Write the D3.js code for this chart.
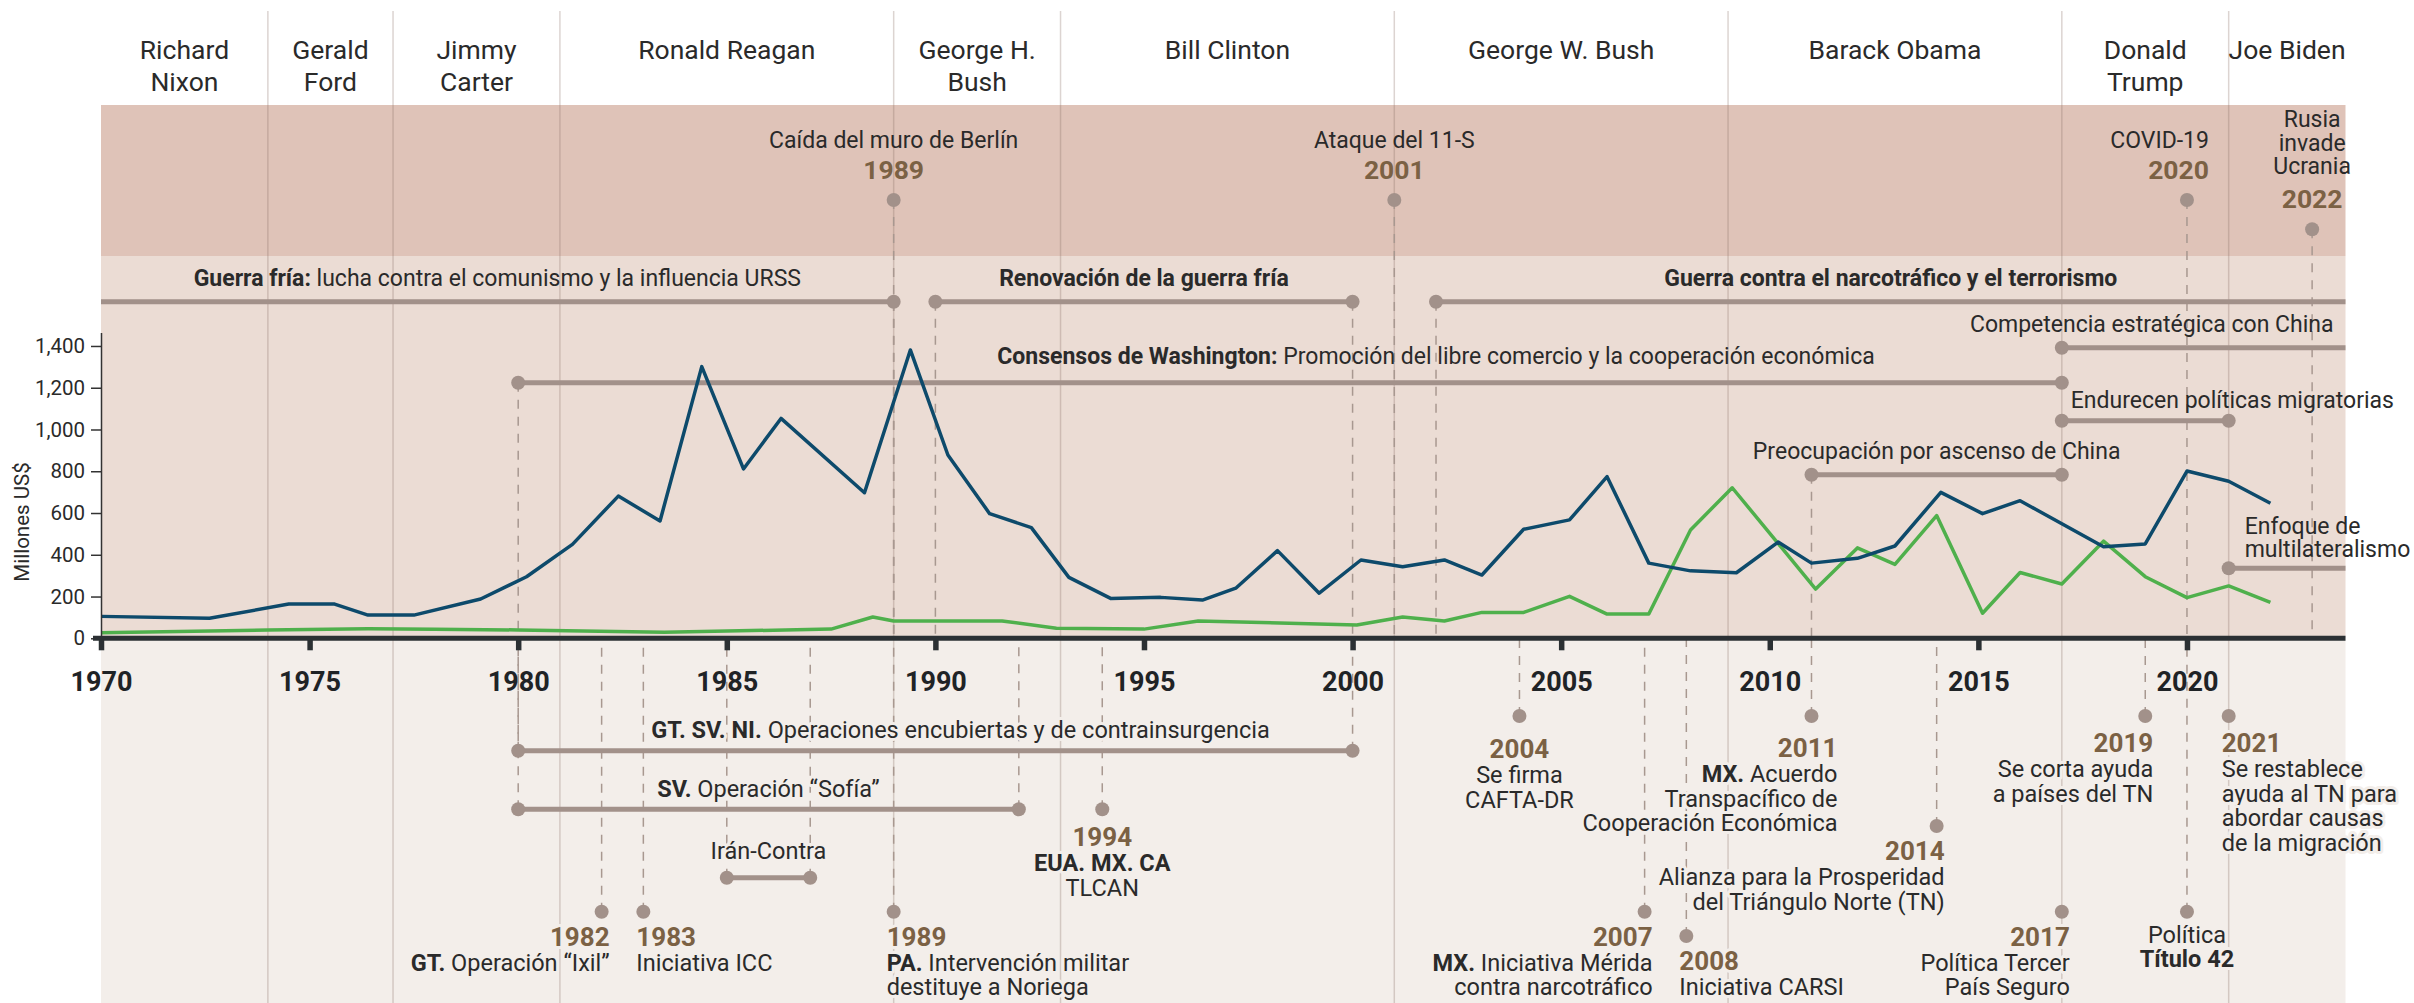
<!DOCTYPE html>
<html>
<head>
<meta charset="utf-8">
<script src="https://cdn.jsdelivr.net/npm/d3@7"></script>
<style>
  body { margin: 0; background: #fff; }
  svg { display: block; font-family: Roboto, "Noto Sans", sans-serif; }
</style>
</head>
<body>
<svg id="chart" width="2414" height="1003"></svg>
<script>
// ---- data ----
const presidents = ['Richard\nNixon', 'Gerald\nFord', 'Jimmy\nCarter', 'Ronald Reagan', 'George H.\nBush',
  'Bill Clinton', 'George W. Bush', 'Barack Obama', 'Donald\nTrump', 'Joe Biden']
const presidentStarts = [1970, 1974, 1977, 1981, 1989, 1993, 2001, 2009, 2017, 2021]
const yearTicks = [1970, 1975, 1980, 1985, 1990, 1995, 2000, 2005, 2010, 2015, 2020]
const valueTicks = [0, 200, 400, 600, 800, 1000, 1200, 1400]

const blueYears = [1970, 1972.6, 1974.5, 1975.6, 1976.4, 1977.5, 1979.1, 1980.2, 1981.3, 1982.4, 1983.4,
  1984.4, 1985.4, 1986.3, 1988.3, 1989.4, 1990.3, 1991.3, 1992.3, 1993.2, 1994.2, 1995.4, 1996.4, 1997.2,
  1998.2, 1999.2, 2000.2, 2001.2, 2002.2, 2003.1, 2004.1, 2005.2, 2006.1, 2007.1, 2008.1, 2009.2, 2010.2,
  2011, 2012.1, 2013, 2014.1, 2015.1, 2016, 2018, 2019, 2020, 2021, 2022]
const blueValues = [105, 96, 164, 164, 111, 111, 188, 295, 450, 681, 562,
  1301, 811, 1053, 697, 1381, 878, 597, 530, 292, 191, 196, 183, 240,
  420, 216, 375, 343, 375, 303, 522, 567, 774, 360, 323, 314, 461,
  360, 383, 442, 699, 597, 659, 438, 452, 801, 752, 647]

const greenYears = [1970, 1974, 1976.4, 1978, 1980, 1983.5, 1986.4, 1987.5, 1988.5, 1989, 1991.6, 1992.9,
  1995, 1996.3, 2000.1, 2001.2, 2002.2, 2003.1, 2004.1, 2005.2, 2006.1, 2007.1, 2008.1, 2009.1,
  2011.1, 2012.1, 2013, 2014, 2015.1, 2016, 2017, 2018, 2019, 2020, 2021, 2022]
const greenValues = [27, 40, 46, 43, 40, 29, 40, 44, 102, 83, 83, 48,
  44, 83, 64, 102, 83, 124, 124, 201, 116, 116, 519, 721,
  236, 433, 354, 588, 120, 315, 260, 465, 295, 195, 251, 172]

const policies = [
  { from: 1970, to: 1989, row: 'r0', lines: ['**Guerra fría:** lucha contra el comunismo y la influencia URSS'] },
  { from: 1990, to: 2000, row: 'r0', lines: ['**Renovación de la guerra fría**'] },
  { from: 2002, to: 2023.8, row: 'r0', lines: ['**Guerra contra el narcotráfico y el terrorismo**'] },
  { from: 2017, to: 2023.8, row: 'r1', lines: ['Competencia estratégica con China'], align: 'end' },
  { from: 1980, to: 2017, row: 'r2', lines: ['**Consensos de Washington:** Promoción del libre comercio y la cooperación económica'], labelAt: 2002 },
  { from: 2017, to: 2021, row: 'r3', lines: ['Endurecen políticas migratorias'], align: 'start' },
  { from: 2011, to: 2017, row: 'r4', lines: ['Preocupación por ascenso de China'] },
  { from: 2021, to: 2023.8, row: 'r5', lines: ['Enfoque de', 'multilateralismo'], align: 'start' },
  { from: 1980, to: 2000, row: 'b0', lines: ['**GT. SV. NI.** Operaciones encubiertas y de contrainsurgencia'], labelAt: 1990.6 },
  { from: 1980, to: 1992, row: 'b1', lines: ['**SV.** Operación “Sofía”'] },
  { from: 1985, to: 1987, row: 'b2', lines: ['Irán-Contra'] }
]

const topEvents = [
  { at: 1989, year: '1989', lines: ['Caída del muro de Berlín'], level: 'tA', align: 'middle' },
  { at: 2001, year: '2001', lines: ['Ataque del 11-S'], level: 'tA', align: 'middle' },
  { at: 2020, year: '2020', lines: ['COVID-19'], level: 'tA', align: 'end' },
  { at: 2023, year: '2022', lines: ['Rusia', 'invade', 'Ucrania'], level: 'tB', align: 'middle' }
]

const bottomEvents = [
  { at: 1982, year: '1982', lines: ['**GT.** Operación “Ixil”'], level: 'd4', align: 'end' },
  { at: 1983, year: '1983', lines: ['Iniciativa ICC'], level: 'd4', align: 'start' },
  { at: 1989, year: '1989', lines: ['**PA.** Intervención militar', 'destituye a Noriega'], level: 'd4', align: 'start' },
  { at: 1994, year: '1994', lines: ['**EUA. MX. CA**', 'TLCAN'], level: 'd2', align: 'middle' },
  { at: 2004, year: '2004', lines: ['Se firma', 'CAFTA-DR'], level: 'd1', align: 'middle' },
  { at: 2007, year: '2007', lines: ['**MX.** Iniciativa Mérida', 'contra narcotráfico'], level: 'd4', align: 'end' },
  { at: 2008, year: '2008', lines: ['Iniciativa CARSI'], level: 'd5', align: 'start' },
  { at: 2011, year: '2011', lines: ['**MX.** Acuerdo', 'Transpacífico de', 'Cooperación Económica'], level: 'd1', align: 'end' },
  { at: 2014, year: '2014', lines: ['Alianza para la Prosperidad', 'del Triángulo Norte (TN)'], level: 'd3', align: 'end' },
  { at: 2017, year: '2017', lines: ['Política Tercer', 'País Seguro'], level: 'd4', align: 'end' },
  { at: 2019, year: '2019', lines: ['Se corta ayuda', 'a países del TN'], level: 'd1', align: 'end' },
  { at: 2020, year: null, lines: ['Política', '**Título 42**'], level: 'd4', align: 'middle' },
  { at: 2021, year: '2021', lines: ['Se restablece', 'ayuda al TN para', 'abordar causas', 'de la migración'], level: 'd1', align: 'start' }
]

// ---- layout ----
const svg = d3.select('#chart')
const xMin = 1970, xMax = 2023.8
const x = d3.scaleLinear().domain([xMin, xMax]).range([101, 2345.5])
const y = d3.scaleLinear().domain([0, 1465]).range([638.3, 332.4])
const axisY = y(0)

// vertical levels of the timeline rows and event dots
const LY = { tA: 200, tB: 229.3, r0: 301.7, r1: 347.7, r2: 382.7, r3: 420.7, r4: 474.7, r5: 568.3,
  d1: 716, b0: 750.7, b1: 809.3, d2: 809.3, d3: 826, b2: 877.7, d4: 911.7, d5: 936 }
const labelGap = { r0: 16, r1: 16, r2: 19, r3: 13, r4: 16, r5: 11, b0: 13, b1: 12, b2: 19 }
const yearGap = { d1: 36, d2: 37, d3: 34, d4: 34, d5: 34 }
const dxNudge = { 2011: 18 }
const dyNudge = { 2004: 6, 2011: 5 }

const ink = '#2a2a2a', brown = '#7b6144', grey = '#a2918a'

const plotW = x(xMax) - x(xMin)
svg.append('rect').attr('x', x(xMin)).attr('y', 105).attr('width', plotW).attr('height', 151).attr('fill', '#dfc3b8')
svg.append('rect').attr('x', x(xMin)).attr('y', 256).attr('width', plotW).attr('height', axisY - 256).attr('fill', '#ebdcd4')
svg.append('rect').attr('x', x(xMin)).attr('y', axisY).attr('width', plotW).attr('height', 1003 - axisY).attr('fill', '#f3eeea')

// president separators and names
svg.append('g').selectAll('line')
  .data(presidentStarts.slice(1))
  .enter().append('line')
  .attr('x1', d => x(d)).attr('x2', d => x(d))
  .attr('y1', 11).attr('y2', 1003)
  .attr('stroke', '#8a7068').attr('stroke-opacity', 0.3).attr('stroke-width', 1.5)

const presEnds = presidentStarts.slice(1).concat([xMax])
presidents.forEach((name, i) => {
  const cx = x((presidentStarts[i] + presEnds[i]) / 2)
  name.split('\n').forEach((ln, j) => {
    svg.append('text').attr('x', cx).attr('y', 59 + j * 31.5)
      .attr('text-anchor', 'middle').attr('font-size', 26.5).attr('fill', ink).text(ln)
  })
})

function richLine(t, str) {
  str.split('**').forEach((part, i) => {
    if (!part) return
    t.append('tspan').attr('font-weight', i % 2 ? 700 : 400).text(part)
  })
}

// dashed drops from every dot to the axis
const dots = []
policies.forEach(p => {
  if (p.from > xMin) dots.push({ at: p.from, level: p.row })
  if (p.to < xMax) dots.push({ at: p.to, level: p.row })
})
topEvents.concat(bottomEvents).forEach(e => dots.push({ at: e.at, level: e.level }))

svg.append('g').selectAll('line')
  .data(dots.filter(d => d.at !== 2017 && d.at !== 2021))
  .enter().append('line')
  .attr('x1', d => x(d.at)).attr('x2', d => x(d.at))
  .attr('y1', d => LY[d.level]).attr('y2', axisY)
  .attr('stroke', '#a89890').attr('stroke-width', 1.5).attr('stroke-dasharray', '9,8')

// timeline rows
svg.append('g').selectAll('line')
  .data(policies)
  .enter().append('line')
  .attr('x1', d => x(d.from)).attr('x2', d => x(d.to))
  .attr('y1', d => LY[d.row]).attr('y2', d => LY[d.row])
  .attr('stroke', grey).attr('stroke-width', 5)

svg.append('g').selectAll('circle')
  .data(dots)
  .enter().append('circle')
  .attr('cx', d => x(d.at)).attr('cy', d => LY[d.level]).attr('r', 7)
  .attr('fill', grey)

// series lines
const line = d3.line().x(d => x(d[0])).y(d => y(d[1]))
svg.append('path').datum(d3.zip(greenYears, greenValues))
  .attr('d', line).attr('fill', 'none').attr('stroke', '#4fb04c').attr('stroke-width', 3.5)
  .attr('stroke-linejoin', 'round')
svg.append('path').datum(d3.zip(blueYears, blueValues))
  .attr('d', line).attr('fill', 'none').attr('stroke', '#0d4a6b').attr('stroke-width', 3.5)
  .attr('stroke-linejoin', 'round')

// axes
const yAxis = svg.append('g').attr('transform', `translate(${x(xMin)},0)`)
  .call(d3.axisLeft(y).tickValues(valueTicks).tickSize(10).tickSizeOuter(0).tickPadding(6).tickFormat(d3.format(',')))
yAxis.select('.domain').attr('stroke', '#333').attr('stroke-width', 1.5)
yAxis.selectAll('.tick line').attr('stroke', '#333').attr('stroke-width', 1.5)
yAxis.selectAll('.tick text').attr('font-size', 20.5).attr('fill', ink).attr('font-family', 'Roboto')

svg.append('text').attr('transform', 'translate(29,522) rotate(-90)')
  .attr('text-anchor', 'middle').attr('font-size', 20.5).attr('fill', ink).text('Millones US$')

const xAxis = svg.append('g').attr('transform', `translate(0,${axisY})`)
  .call(d3.axisBottom(x).tickValues(yearTicks).tickSize(12).tickPadding(22).tickFormat(d3.format('d')))
xAxis.select('.domain').remove()
xAxis.selectAll('.tick line').attr('stroke', '#2b3033').attr('stroke-width', 5.5)
xAxis.selectAll('.tick text').attr('font-size', 27).attr('font-weight', 700).attr('fill', '#1f2326').attr('font-family', 'Roboto')
svg.append('line').attr('x1', 93).attr('x2', x(xMax)).attr('y1', axisY).attr('y2', axisY)
  .attr('stroke', '#2b3033').attr('stroke-width', 5)

// row labels
const halo = t => t.attr('stroke', '#f3eeea').attr('stroke-width', 6).attr('stroke-linejoin', 'round').attr('paint-order', 'stroke')
policies.forEach(p => {
  let lx = x(p.labelAt !== undefined ? p.labelAt : (p.from + p.to) / 2), anchor = 'middle'
  if (p.align === 'end') { lx = x(p.to) - 12; anchor = 'end' }
  if (p.align === 'start') { lx = x(p.from) + (p.lines.length > 1 ? 16 : 9); anchor = 'start' }
  const below = p.row[0] === 'b'
  const base = LY[p.row] - labelGap[p.row]
  p.lines.forEach((ln, j) => {
    const t = svg.append('text').attr('x', lx).attr('y', base - (p.lines.length - 1 - j) * 23.5)
      .attr('text-anchor', anchor).attr('font-size', below ? 23.5 : 23).attr('fill', ink)
    if (below) halo(t)
    richLine(t, ln)
  })
})

// events above the chart
topEvents.forEach(e => {
  const dy = LY[e.level]
  let lx = x(e.at), anchor = 'middle'
  if (e.align === 'end') { lx += 22; anchor = 'end' }
  svg.append('text').attr('x', lx).attr('y', dy - 21).attr('text-anchor', anchor)
    .attr('font-size', 26.5).attr('font-weight', 700).attr('fill', brown).text(e.year)
  const gap = e.lines.length > 1 ? 55 : 52
  e.lines.forEach((ln, j) => {
    svg.append('text').attr('x', lx).attr('y', dy - gap - (e.lines.length - 1 - j) * 23.6)
      .attr('text-anchor', anchor).attr('font-size', 23).attr('fill', ink).text(ln)
  })
})

// events below the axis
bottomEvents.forEach(e => {
  const dy = LY[e.level] + (dyNudge[e.at] || 0)
  let lx = x(e.at), anchor = 'middle'
  if (e.align === 'end') { lx += 8 + (dxNudge[e.at] || 0); anchor = 'end' }
  if (e.align === 'start') { lx -= 7; anchor = 'start' }
  let base = dy + yearGap[e.level]
  if (e.year) {
    halo(svg.append('text').attr('x', lx).attr('y', base).attr('text-anchor', anchor)
      .attr('font-size', 26).attr('font-weight', 700).attr('fill', brown).text(e.year))
    base += 25
  } else {
    base -= 3
  }
  e.lines.forEach((ln, j) => {
    const t = svg.append('text').attr('x', lx).attr('y', base + j * 24.5)
      .attr('text-anchor', anchor).attr('font-size', 23.5).attr('fill', ink)
    halo(t)
    richLine(t, ln)
  })
})
</script>
</body>
</html>
